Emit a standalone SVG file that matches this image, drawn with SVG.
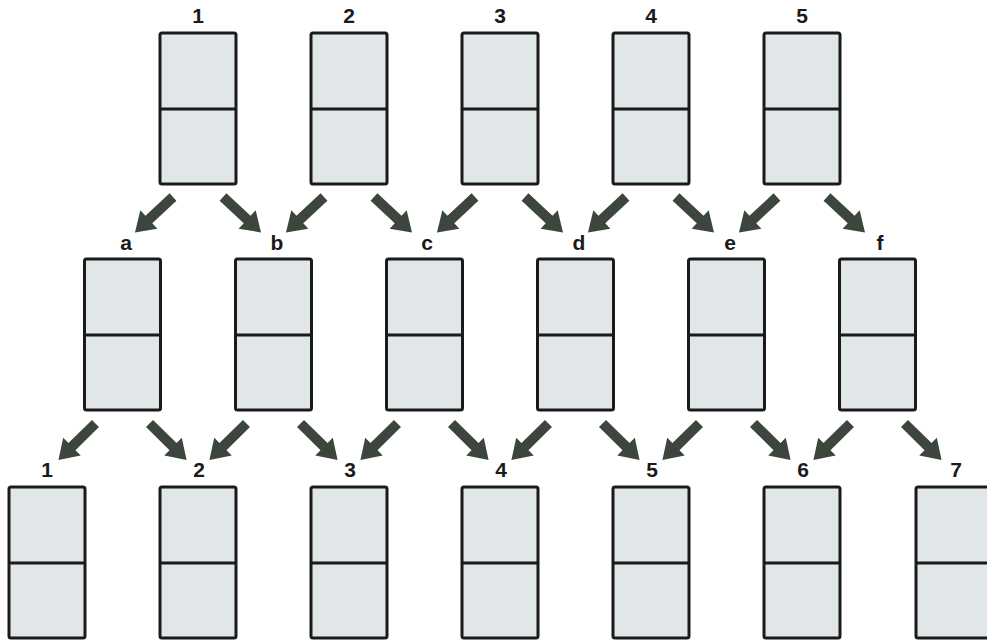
<svg xmlns="http://www.w3.org/2000/svg" xmlns:xlink="http://www.w3.org/1999/xlink" width="987" height="640" viewBox="0 0 987 640">
<style>
.box{fill:#e1e7e9;stroke:#1a1a1a;stroke-width:3}
.div{stroke:#1a1a1a;stroke-width:3}
.lbl{font-family:"Liberation Sans",Arial,sans-serif;font-weight:bold;font-size:21px;fill:#1a1a1a;text-anchor:middle}
.arr{fill:#3c463c}
</style>
<defs>
<path id="arrow" class="arr" d="M0,-5 H33 V-12.5 L52,0 L33,12.5 V5 H0 Z"/>
</defs>
<rect width="987" height="640" fill="#ffffff"/>

<g id="top1"><rect class="box" x="160" y="33" width="76" height="151" rx="2"/><line class="div" x1="160" y1="109" x2="236" y2="109"/><text class="lbl" x="198" y="23">1</text></g>
<g id="top2"><rect class="box" x="311" y="33" width="76" height="151" rx="2"/><line class="div" x1="311" y1="109" x2="387" y2="109"/><text class="lbl" x="349" y="23">2</text></g>
<g id="top3"><rect class="box" x="462" y="33" width="76" height="151" rx="2"/><line class="div" x1="462" y1="109" x2="538" y2="109"/><text class="lbl" x="500" y="23">3</text></g>
<g id="top4"><rect class="box" x="613" y="33" width="76" height="151" rx="2"/><line class="div" x1="613" y1="109" x2="689" y2="109"/><text class="lbl" x="651" y="23">4</text></g>
<g id="top5"><rect class="box" x="764" y="33" width="76" height="151" rx="2"/><line class="div" x1="764" y1="109" x2="840" y2="109"/><text class="lbl" x="802" y="23">5</text></g>

<g id="mid-a"><rect class="box" x="84.5" y="259" width="76" height="151" rx="2"/><line class="div" x1="84.5" y1="335" x2="160.5" y2="335"/><text class="lbl" x="126" y="250">a</text></g>
<g id="mid-b"><rect class="box" x="235.5" y="259" width="76" height="151" rx="2"/><line class="div" x1="235.5" y1="335" x2="311.5" y2="335"/><text class="lbl" x="277" y="250">b</text></g>
<g id="mid-c"><rect class="box" x="386.5" y="259" width="76" height="151" rx="2"/><line class="div" x1="386.5" y1="335" x2="462.5" y2="335"/><text class="lbl" x="427" y="250">c</text></g>
<g id="mid-d"><rect class="box" x="537.5" y="259" width="76" height="151" rx="2"/><line class="div" x1="537.5" y1="335" x2="613.5" y2="335"/><text class="lbl" x="579" y="250">d</text></g>
<g id="mid-e"><rect class="box" x="688.5" y="259" width="76" height="151" rx="2"/><line class="div" x1="688.5" y1="335" x2="764.5" y2="335"/><text class="lbl" x="730" y="250">e</text></g>
<g id="mid-f"><rect class="box" x="839.5" y="259" width="76" height="151" rx="2"/><line class="div" x1="839.5" y1="335" x2="915.5" y2="335"/><text class="lbl" x="880" y="250">f</text></g>

<g id="bot1"><rect class="box" x="9" y="487" width="76" height="151" rx="2"/><line class="div" x1="9" y1="563" x2="85" y2="563"/><text class="lbl" x="47" y="477">1</text></g>
<g id="bot2"><rect class="box" x="160" y="487" width="76" height="151" rx="2"/><line class="div" x1="160" y1="563" x2="236" y2="563"/><text class="lbl" x="199" y="477">2</text></g>
<g id="bot3"><rect class="box" x="311" y="487" width="76" height="151" rx="2"/><line class="div" x1="311" y1="563" x2="387" y2="563"/><text class="lbl" x="350" y="477">3</text></g>
<g id="bot4"><rect class="box" x="462" y="487" width="76" height="151" rx="2"/><line class="div" x1="462" y1="563" x2="538" y2="563"/><text class="lbl" x="501" y="477">4</text></g>
<g id="bot5"><rect class="box" x="613" y="487" width="76" height="151" rx="2"/><line class="div" x1="613" y1="563" x2="689" y2="563"/><text class="lbl" x="652" y="477">5</text></g>
<g id="bot6"><rect class="box" x="764" y="487" width="76" height="151" rx="2"/><line class="div" x1="764" y1="563" x2="840" y2="563"/><text class="lbl" x="803" y="477">6</text></g>
<g id="bot7"><rect class="box" x="916" y="487" width="76" height="151" rx="2"/><line class="div" x1="916" y1="563" x2="992" y2="563"/><text class="lbl" x="956" y="477">7</text></g>

<g id="connectors">
<use xlink:href="#arrow" href="#arrow" transform="translate(173,197) rotate(137)"/>
<use xlink:href="#arrow" href="#arrow" transform="translate(223,197) rotate(43)"/>
<use xlink:href="#arrow" href="#arrow" transform="translate(324,197) rotate(137)"/>
<use xlink:href="#arrow" href="#arrow" transform="translate(374,197) rotate(43)"/>
<use xlink:href="#arrow" href="#arrow" transform="translate(475,197) rotate(137)"/>
<use xlink:href="#arrow" href="#arrow" transform="translate(525,197) rotate(43)"/>
<use xlink:href="#arrow" href="#arrow" transform="translate(626,197) rotate(137)"/>
<use xlink:href="#arrow" href="#arrow" transform="translate(676,197) rotate(43)"/>
<use xlink:href="#arrow" href="#arrow" transform="translate(777,197) rotate(137)"/>
<use xlink:href="#arrow" href="#arrow" transform="translate(827,197) rotate(43)"/>

<use xlink:href="#arrow" href="#arrow" transform="translate(95.5,423.5) rotate(135.5)"/>
<use xlink:href="#arrow" href="#arrow" transform="translate(149.5,423.5) rotate(44.5)"/>
<use xlink:href="#arrow" href="#arrow" transform="translate(246.5,423.5) rotate(135.5)"/>
<use xlink:href="#arrow" href="#arrow" transform="translate(300.5,423.5) rotate(44.5)"/>
<use xlink:href="#arrow" href="#arrow" transform="translate(397.5,423.5) rotate(135.5)"/>
<use xlink:href="#arrow" href="#arrow" transform="translate(451.5,423.5) rotate(44.5)"/>
<use xlink:href="#arrow" href="#arrow" transform="translate(548.5,423.5) rotate(135.5)"/>
<use xlink:href="#arrow" href="#arrow" transform="translate(602.5,423.5) rotate(44.5)"/>
<use xlink:href="#arrow" href="#arrow" transform="translate(699.5,423.5) rotate(135.5)"/>
<use xlink:href="#arrow" href="#arrow" transform="translate(753.5,423.5) rotate(44.5)"/>
<use xlink:href="#arrow" href="#arrow" transform="translate(850.5,423.5) rotate(135.5)"/>
<use xlink:href="#arrow" href="#arrow" transform="translate(904.5,423.5) rotate(44.5)"/>
</g>
</svg>
